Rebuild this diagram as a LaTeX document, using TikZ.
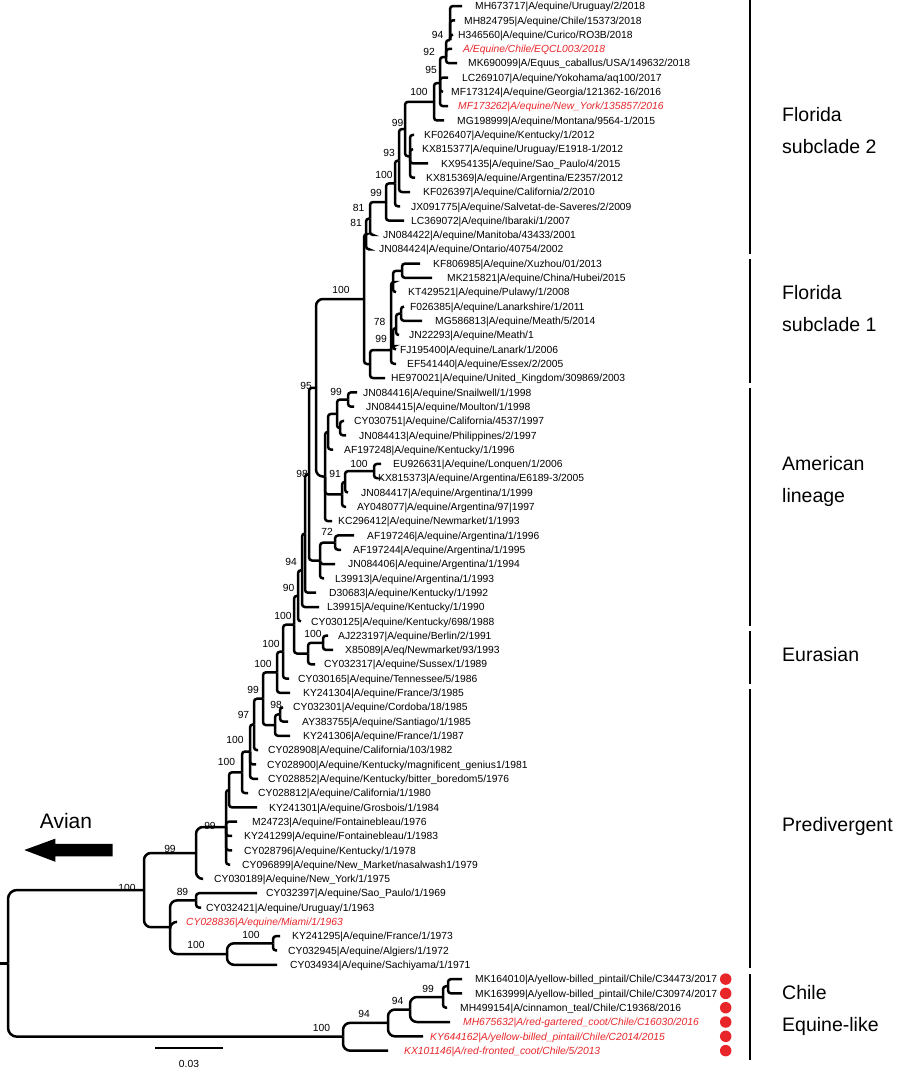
\documentclass[tikz,border=0pt]{standalone}
\usepackage{fontspec}
\setmainfont{Liberation Sans}
\usetikzlibrary{calc}
\definecolor{tred}{RGB}{232,38,42}
\newcommand\leaf[6]{%
  \coordinate (#1) at (#3,{6+(#2-1)*14.31});
  \node[lab,#5] (#1t) at (#4,{6+(#2-1)*14.31}) {#6};}
\newcommand\kids[2]{\foreach \c in {#2}{\draw[br] (#1) |- (\c);}}
\newcommand\kidsR[2]{\foreach \c in {#2}{\draw[br,rounded corners=7pt] (#1) |- (\c);}}
\begin{document}
\begin{tikzpicture}[x=1pt,y=-1pt,
  br/.style={line width=2.5pt,rounded corners=3pt},
  lab/.style={anchor=west,inner sep=0pt,font=\fontsize{10.3}{12}\selectfont,text height=7.4pt,text depth=0pt},
  rl/.style={text=tred,font=\fontsize{10.3}{12}\selectfont\itshape},
  bs/.style={inner sep=0pt,font=\fontsize{10.3}{12}\selectfont,text height=7.4pt,text depth=0pt},
  grp/.style={anchor=west,inner sep=0pt,font=\fontsize{19.5}{32}\selectfont,align=left},
  bar/.style={line width=2pt},
  dot/.style={circle,fill=tred,inner sep=0pt,minimum size=11.5pt}]
\useasboundingbox (0,0) rectangle (900,1072);
% ---------------- leaves
\leaf{L1}{1}{462}{475}{}{MH673717|A/equine/Uruguay/2/2018}
\leaf{L2}{2}{455}{464}{}{MH824795|A/equine/Chile/15373/2018}
\leaf{L3}{3}{453}{458}{}{H346560|A/equine/Curico/RO3B/2018}
\leaf{L4}{4}{452}{463}{rl}{A/Equine/Chile/EQCL003/2018}
\leaf{L5}{5}{457}{468}{}{MK690099|A/Equus\_caballus/USA/149632/2018}
\leaf{L6}{6}{448}{462}{}{LC269107|A/equine/Yokohama/aq100/2017}
\leaf{L7}{7}{443}{451}{}{MF173124|A/equine/Georgia/121362-16/2016}
\leaf{L8}{8}{448}{458}{rl}{MF173262|A/equine/New\_York/135857/2016}
\leaf{L9}{9}{444}{457}{}{MG198999|A/equine/Montana/9564-1/2015}
\leaf{L10}{10}{414}{424}{}{KF026407|A/equine/Kentucky/1/2012}
\leaf{L11}{11}{413}{422}{}{KX815377|A/equine/Uruguay/E1918-1/2012}
\leaf{L12}{12}{428}{441}{}{KX954135|A/equine/Sao\_Paulo/4/2015}
\leaf{L13}{13}{415}{426}{}{KX815369|A/equine/Argentina/E2357/2012}
\leaf{L14}{14}{410}{423}{}{KF026397|A/equine/California/2/2010}
\leaf{L15}{15}{400}{411}{}{JX091775|A/equine/Salvetat-de-Saveres/2/2009}
\leaf{L16}{16}{404}{411}{}{LC369072|A/equine/Ibaraki/1/2007}
\leaf{L17}{17}{372}{383}{}{JN084422|A/equine/Manitoba/43433/2001}
\leaf{L18}{18}{368}{379}{}{JN084424|A/equine/Ontario/40754/2002}
\leaf{L19}{19}{420}{433}{}{KF806985|A/equine/Xuzhou/01/2013}
\leaf{L20}{20}{432}{447}{}{MK215821|A/equine/China/Hubei/2015}
\leaf{L21}{21}{396}{408}{}{KT429521|A/equine/Pulawy/1/2008}
\leaf{L22}{22}{404}{410}{}{F026385|A/equine/Lanarkshire/1/2011}
\leaf{L23}{23}{422}{435}{}{MG586813|A/equine/Meath/5/2014}
\leaf{L24}{24}{399}{409}{}{JN22293|A/equine/Meath/1}
\leaf{L25}{25}{396}{400}{}{FJ195400|A/equine/Lanark/1/2006}
\leaf{L26}{26}{396}{407}{}{EF541440|A/equine/Essex/2/2005}
\leaf{L27}{27}{385}{391}{}{HE970021|A/equine/United\_Kingdom/309869/2003}
\leaf{L28}{28}{357}{363}{}{JN084416|A/equine/Snailwell/1/1998}
\leaf{L29}{29}{354}{366}{}{JN084415|A/equine/Moulton/1/1998}
\leaf{L30}{30}{344}{354}{}{CY030751|A/equine/California/4537/1997}
\leaf{L31}{31}{346}{359}{}{JN084413|A/equine/Philippines/2/1997}
\leaf{L32}{32}{333}{344}{}{AF197248|A/equine/Kentucky/1/1996}
\leaf{L33}{33}{381}{393}{}{EU926631|A/equine/Lonquen/1/2006}
\leaf{L34}{34}{376}{378}{}{KX815373|A/equine/Argentina/E6189-3/2005}
\leaf{L35}{35}{348}{361}{}{JN084417|A/equine/Argentina/1/1999}
\leaf{L36}{36}{346}{357}{}{AY048077|A/equine/Argentina/97|1997}
\leaf{L37}{37}{332}{338}{}{KC296412|A/equine/Newmarket/1/1993}
\leaf{L38}{38}{354}{367}{}{AF197246|A/equine/Argentina/1/1996}
\leaf{L39}{39}{341}{353}{}{AF197244|A/equine/Argentina/1/1995}
\leaf{L40}{40}{335}{348}{}{JN084406|A/equine/Argentina/1/1994}
\leaf{L41}{41}{324}{335}{}{L39913|A/equine/Argentina/1/1993}
\leaf{L42}{42}{316}{329}{}{D30683|A/equine/Kentucky/1/1992}
\leaf{L43}{43}{319}{327}{}{L39915|A/equine/Kentucky/1/1990}
\leaf{L44}{44}{301}{311}{}{CY030125|A/equine/Kentucky/698/1988}
\leaf{L45}{45}{328}{338}{}{AJ223197|A/equine/Berlin/2/1991}
\leaf{L46}{46}{333}{345}{}{X85089|A/eq/Newmarket/93/1993}
\leaf{L47}{47}{315}{324}{}{CY032317|A/equine/Sussex/1/1989}
\leaf{L48}{48}{289}{298}{}{CY030165|A/equine/Tennessee/5/1986}
\leaf{L49}{49}{290}{303}{}{KY241304|A/equine/France/3/1985}
\leaf{L50}{50}{283}{293}{}{CY032301|A/equine/Cordoba/18/1985}
\leaf{L51}{51}{288}{302}{}{AY383755|A/equine/Santiago/1/1985}
\leaf{L52}{52}{290}{303}{}{KY241306|A/equine/France/1/1987}
\leaf{L53}{53}{258}{268}{}{CY028908|A/equine/California/103/1982}
\leaf{L54}{54}{256}{267}{}{CY028900|A/equine/Kentucky/magnificent\_genius1/1981}
\leaf{L55}{55}{258}{268}{}{CY028852|A/equine/Kentucky/bitter\_boredom5/1976}
\leaf{L56}{56}{248}{258}{}{CY028812|A/equine/California/1/1980}
\leaf{L57}{57}{257}{269}{}{KY241301|A/equine/Grosbois/1/1984}
\leaf{L58}{58}{237}{252}{}{M24723|A/equine/Fontainebleau/1976}
\leaf{L59}{59}{232}{244}{}{KY241299|A/equine/Fontainebleau/1/1983}
\leaf{L60}{60}{232}{244}{}{CY028796|A/equine/Kentucky/1/1978}
\leaf{L61}{61}{230}{242}{}{CY096899|A/equine/New\_Market/nasalwash1/1979}
\leaf{L62}{62}{202}{214}{}{CY030189|A/equine/New\_York/1/1975}
\leaf{L63}{63}{257}{266}{}{CY032397|A/equine/Sao\_Paulo/1/1969}
\leaf{L64}{64}{201}{206}{}{CY032421|A/equine/Uruguay/1/1963}
\leaf{L65}{65}{176}{186}{rl}{CY028836|A/equine/Miami/1/1963}
\leaf{L66}{66}{280}{292}{}{KY241295|A/equine/France/1/1973}
\leaf{L67}{67}{277}{288}{}{CY032945|A/equine/Algiers/1/1972}
\leaf{L68}{68}{277}{290}{}{CY034934|A/equine/Sachiyama/1/1971}
\leaf{L69}{69}{462}{475}{}{MK164010|A/yellow-billed\_pintail/Chile/C34473/2017}
\leaf{L70}{70}{462}{475}{}{MK163999|A/yellow-billed\_pintail/Chile/C30974/2017}
\leaf{L71}{71}{447}{460}{}{MH499154|A/cinnamon\_teal/Chile/C19368/2016}
\leaf{L72}{72}{450}{463}{rl}{MH675632|A/red-gartered\_coot/Chile/C16030/2016}
\leaf{L73}{73}{423}{430}{rl}{KY644162|A/yellow-billed\_pintail/Chile/C2014/2015}
\leaf{L74}{74}{388}{404}{rl}{KX101146|A/red-fronted\_coot/Chile/5/2013}
% ---------------- internal nodes
\coordinate (n94t) at (450,40);
\coordinate (n92) at (446,57);
\coordinate (n95t) at (440,83);
\coordinate (n100t) at (434,101.8);
\coordinate (n1013) at (410,156.3);
\coordinate (n99a) at (405,129);
\coordinate (n93) at (399,160.5);
\coordinate (n100b) at (395,183.4);
\coordinate (n99b) at (386,202);
\coordinate (n81a) at (370,218.5);
\coordinate (n81b) at (366,234);
\coordinate (n1920) at (402,270.8);
\coordinate (nQ1) at (393,282);
\coordinate (n2223) at (401,313.7);
\coordinate (n78) at (396,328);
\coordinate (n99f) at (393,346);
\coordinate (nF1a) at (391,350);
\coordinate (nF1) at (370,364);
\coordinate (n100F) at (364,299);
\coordinate (n2829) at (348,399.5);
\coordinate (n3031) at (340,428.2);
\coordinate (nAm1) at (337,413.9);
\coordinate (nAm2) at (328,431.8);
\coordinate (n3334) at (374,471.1);
\coordinate (n91) at (345,481.8);
\coordinate (nB) at (342,494.3);
\coordinate (nAm3) at (325,476.5);
\coordinate (n95F) at (316,387.8);
\coordinate (n3839) at (335,542.7);
\coordinate (nD) at (320,560.5);
\coordinate (n98) at (309,474.2);
\coordinate (nA2) at (305,533.5);
\coordinate (n94) at (302,570.2);
\coordinate (n90) at (298,595.8);
\coordinate (nEu1) at (323,642.8);
\coordinate (nEu2) at (308,653.5);
\coordinate (n100a) at (294,624.7);
\coordinate (n100b2) at (283,651.7);
\coordinate (n100c) at (277,672.3);
\coordinate (n5051) at (280,714.4);
\coordinate (nPd1) at (275,725.1);
\coordinate (n99p) at (263,698.7);
\coordinate (n97) at (254,724.4);
\coordinate (n100d) at (250,751.5);
\coordinate (n100e) at (242,772.3);
\coordinate (nG) at (229,789.9);
\coordinate (n99g) at (226,827);
\coordinate (n99h) at (196,853);
\coordinate (n89) at (196,900.4);
\coordinate (n6667) at (273,943.3);
\coordinate (n6668) at (227,954);
\coordinate (nPdL) at (170,927.2);
\coordinate (nEq) at (144,890);
\coordinate (n6970) at (448,986.2);
\coordinate (n99c) at (443,997);
\coordinate (n94c) at (410,1009.5);
\coordinate (n94b) at (388,1022.9);
\coordinate (n100C) at (343,1036.7);
\coordinate (root) at (8,963.4);
\coordinate (rtick) at (0,963.4);
% ---------------- branches
\kids{n94t}{L1,L2,L3}
\kids{n92}{n94t,L4,L5}
\kids{n95t}{n92,L6,L7,L8}
\kids{n100t}{n95t,L9}
\kids{n1013}{L10,L11,L12,L13}
\kids{n99a}{n100t,n1013}
\kids{n93}{n99a,L14}
\kids{n100b}{n93,L15}
\kids{n99b}{n100b,L16}
\kids{n81a}{n99b,L17}
\kids{n81b}{n81a,L18}
\kids{n1920}{L19,L20}
\kids{nQ1}{n1920,L21}
\kids{n2223}{L22,L23}
\kids{n78}{n2223,L24}
\kids{n99f}{n78,L25}
\kids{nF1a}{nQ1,n99f,L26}
\kids{nF1}{nF1a,L27}
\kids{n100F}{n81b,nF1}
\kids{n2829}{L28,L29}
\kids{n3031}{L30,L31}
\kids{nAm1}{n2829,n3031}
\kids{nAm2}{nAm1,L32}
\kids{n3334}{L33,L34}
\kids{n91}{n3334,L35}
\kids{nB}{n91,L36}
\kids{nAm3}{nAm2,nB,L37}
\kidsR{n95F}{n100F,nAm3}
\kids{n3839}{L38,L39}
\kids{nD}{n3839,L40,L41}
\kids{n98}{n95F,nD}
\kids{nA2}{n98,L42}
\kids{n94}{nA2,L43}
\kids{n90}{n94,L44}
\kids{nEu1}{L45,L46}
\kids{nEu2}{nEu1,L47}
\kids{n100a}{n90,nEu2}
\kids{n100b2}{n100a,L48}
\kids{n100c}{n100b2,L49}
\kids{n5051}{L50,L51}
\kids{nPd1}{n5051,L52}
\kids{n99p}{n100c,nPd1}
\kids{n97}{n99p,L53}
\kids{n100d}{n97,L54,L55}
\kids{n100e}{n100d,L56}
\kids{nG}{n100e,L57}
\kids{n99g}{nG,L58,L59,L60,L61}
\kidsR{n99h}{n99g,L62}
\kids{n89}{L63,L64}
\kids{n6667}{L66,L67}
\kidsR{n6668}{n6667,L68}
\kidsR{nPdL}{n89,L65,n6668}
\kidsR{nEq}{n99h,nPdL}
\kids{n6970}{L69,L70}
\kids{n99c}{n6970,L71}
\kidsR{n94c}{n99c,L72}
\kidsR{n94b}{n94c,L73}
\kidsR{n100C}{n94b,L74}
\foreach \c in {nEq,n100C}{\draw[br,rounded corners=9pt] (root) |- (\c);}
\draw[br] (rtick) -- (root);
% ---------------- bootstrap values
\node[bs] (b1) at (437.5,35) {94};
\node[bs] (b2) at (429,52) {92};
\node[bs] (b3) at (431,70) {95};
\node[bs] (b4) at (419,92) {100};
\node[bs] (b5) at (397.5,123) {99};
\node[bs] (b6) at (389,153) {93};
\node[bs] (b7) at (384,175) {100};
\node[bs] (b8) at (376,193) {99};
\node[bs] (b9) at (358.5,208) {81};
\node[bs] (b10) at (356,223) {81};
\node[bs] (b11) at (341,290) {100};
\node[bs] (b12) at (379.5,322) {78};
\node[bs] (b13) at (381,339) {99};
\node[bs] (b14) at (306,385.7) {95};
\node[bs] (b15) at (336,391.7) {99};
\node[bs] (b16) at (359,463.3) {100};
\node[bs] (b17) at (302,473.3) {98};
\node[bs] (b18) at (335,474) {91};
\node[bs] (b19) at (327,531.7) {72};
\node[bs] (b20) at (291,561.7) {94};
\node[bs] (b21) at (288.5,587.7) {90};
\node[bs] (b22) at (283,616) {100};
\node[bs] (b23) at (313,634) {100};
\node[bs] (b24) at (271,643.3) {100};
\node[bs] (b25) at (263,663.3) {100};
\node[bs] (b26) at (253,690) {99};
\node[bs] (b27) at (276,705) {98};
\node[bs] (b28) at (243.5,715) {97};
\node[bs] (b29) at (235,740) {100};
\node[bs] (b30) at (226.5,761.7) {100};
\node[bs] (b31) at (210,826) {99};
\node[bs] (b32) at (170,849) {99};
\node[bs] (b33) at (127,888) {100};
\node[bs] (b34) at (182.5,892) {89};
\node[bs] (b35) at (251,935) {100};
\node[bs] (b36) at (196,945) {100};
\node[bs] (b37) at (428,988.5) {99};
\node[bs] (b38) at (397.5,1000.7) {94};
\node[bs] (b39) at (364,1014) {94};
\node[bs] (b40) at (321.5,1028) {100};
% ---------------- red dots
\foreach \i in {69,...,74}{\node[dot] (d\i) at (725.7,{6+(\i-1)*14.31}) {};}
% ---------------- group bars and labels
\draw[bar] (750,0) -- (750,254);
\draw[bar] (750,259) -- (750,383);
\draw[bar] (750,388) -- (750,626);
\draw[bar] (750,631) -- (750,684);
\draw[bar] (750,689) -- (750,968);
\draw[bar] (750,974) -- (750,1060);
\node[grp] (g1) at (782,131) {Florida\\subclade 2};
\node[grp] (g2) at (782,309) {Florida\\subclade 1};
\node[grp] (g3) at (782,481) {American\\lineage};
\node[grp] (g4) at (782,655) {Eurasian};
\node[grp] (g5) at (782,826) {Predivergent};
\node[grp] (g6) at (782,1010) {Chile\\Equine-like};
% ---------------- avian arrow
\node[inner sep=0pt,font=\fontsize{21}{24}\selectfont] (avian) at (66,821) {Avian};
\fill (24.3,850) -- (55.4,838.6) -- (55.4,843.9) -- (112.5,843.9) -- (112.5,856.4) -- (55.4,856.4) -- (55.4,861.8) -- cycle;
% ---------------- scale bar
\coordinate (sb1) at (155,1048);
\coordinate (sb2) at (223,1048);
\draw[line width=2pt] (sb1) -- (sb2);
\node[bs] (sbl) at (189,1064) {0.03};
\end{tikzpicture}
\end{document}
